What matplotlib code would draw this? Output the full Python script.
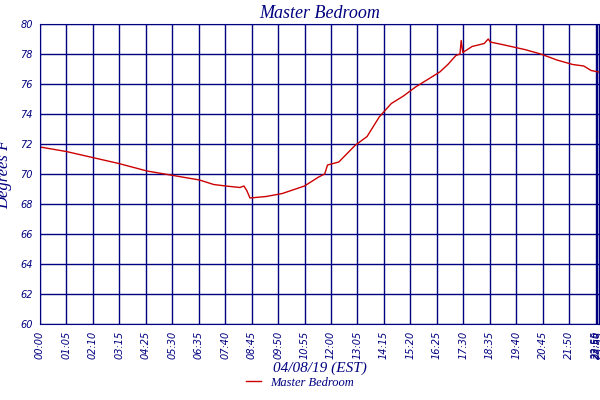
import matplotlib
matplotlib.use("Agg")
import matplotlib.pyplot as plt
import numpy as np

minutes = [0,65,130,195,265,330,395,430,460,495,505,512,520,560,600,655,690,705,712,740,780,810,840,870,900,930,960,990,1010,1030,1040,1043,1047,1070,1100,1110,1115,1150,1200,1240,1280,1320,1350,1370,1390]
temps =   [71.8,71.5,71.1,70.7,70.2,69.9,69.6,69.3,69.2,69.1,69.2,68.9,68.4,68.5,68.7,69.2,69.8,70.0,70.6,70.8,71.9,72.5,73.8,74.7,75.2,75.8,76.3,76.8,77.3,77.9,78.0,78.9,78.1,78.5,78.7,79.0,78.8,78.6,78.3,78.0,77.6,77.3,77.2,76.9,76.8]
tick_lab = ["00:00","01:05","02:10","03:15","04:25","05:30","06:35","07:40","08:45","09:50","10:55",
            "12:00","13:05","14:15","15:20","16:25","17:30","18:35","19:40","20:45","21:50","22:55","23:50","23:55"]
tick_min = [int(t[:2])*60+int(t[3:]) for t in tick_lab]

# tick positions along the axis (evenly spaced by sample index, last three crowded at the end)
tick_pos = [i*26.45 for i in range(21)] + [555.5, 557.0, 558.5]
def xmap(m):
    return np.interp(m, [0,1310,1390], [0, 20*26.45, 558.5])

navy = "#000080"
fig = plt.figure(figsize=(6,4), dpi=100)
ax = fig.add_axes([40/600, 76/400, 559/600, 300/400])
ax.plot(xmap(np.array(minutes)), temps, color="#cc0000", lw=1)
ax.set_xlim(0,559); ax.set_ylim(60,80)
ax.set_yticks(range(60,81,2))
ax.set_xticks(tick_pos)
ax.set_xticklabels(tick_lab, rotation=90, fontsize=7, style="italic", color=navy)
for l in ax.get_yticklabels():
    l.set_fontsize(7); l.set_style("italic"); l.set_color(navy)
ax.grid(True, color=navy, lw=1)
ax.tick_params(length=0, pad=5)
for s in ax.spines.values():
    s.set_color(navy)
ax.set_title("Master Bedroom", fontsize=13, style="italic", color=navy, family="Liberation Serif", pad=4)
ax.set_ylabel("Degrees F", fontsize=12, style="italic", color=navy, family="Liberation Serif", labelpad=6)
ax.set_xlabel("04/08/19 (EST)", fontsize=11, style="italic", color=navy, family="Liberation Serif", labelpad=2)
fig.legend(handles=ax.get_lines(), labels=["Master Bedroom"], loc="lower center", bbox_to_anchor=(0.5,0.0),
           frameon=False, prop={"family":"Liberation Serif","style":"italic","size":9}, labelcolor=navy, handlelength=1.2)
fig.savefig("out.png")
